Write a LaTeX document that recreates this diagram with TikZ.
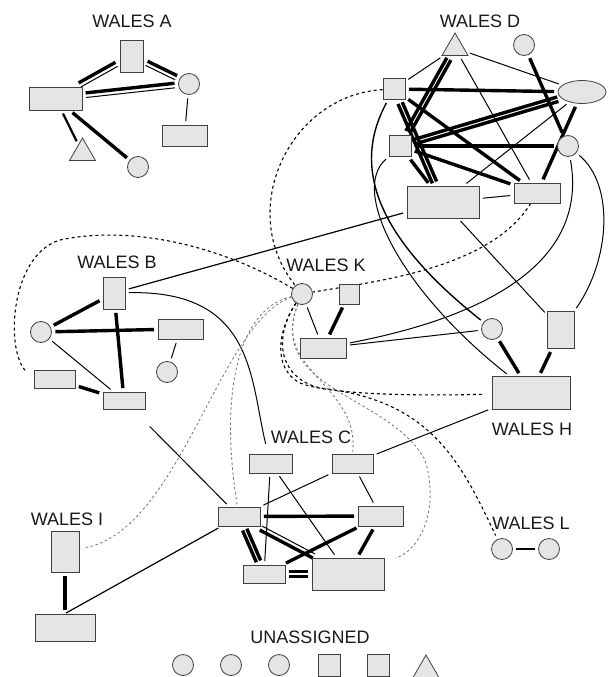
\documentclass[tikz,border=0pt]{standalone}
\usepackage{fontspec}
\setmainfont{Liberation Sans}
\usetikzlibrary{shapes.geometric,calc}
\pgfdeclarelayer{bg}
\pgfsetlayers{bg,main}
\tikzset{
 nd/.style={draw=black!75, fill=black!10, line width=0.8pt, inner sep=0pt},
 rc/.style 2 args={nd, rectangle, minimum width=#1pt, minimum height=#2pt},
 cir/.style={nd, circle, minimum size=21pt},
 tri/.style={nd, regular polygon, regular polygon sides=3, minimum size=30pt},
 ell/.style={nd, ellipse, minimum width=48pt, minimum height=23pt},
 lab/.style={inner sep=0pt, font=\fontsize{18}{20}\selectfont, text=black!90},
 ln/.style={line width=1pt, shorten <=3.5pt, shorten >=3.5pt},
 th/.style={line width=3.4pt, shorten <=3.5pt, shorten >=3.5pt},
 md/.style={line width=2.2pt, shorten <=3.5pt, shorten >=3.5pt},
 kd/.style={line width=1.1pt, dash pattern=on 3pt off 3pt},
 gd/.style={line width=0.8pt, black!55, dash pattern=on 2.5pt off 2.5pt},
}
\newcommand\pe[4]{%
 \path (#1) -- (#2) coordinate[pos=0] (pes) coordinate[pos=1] (pee);
 \draw[#3] ($(pes)!2.3pt!90:(pee)$) -- ($(pee)!2.3pt!-90:(pes)$);
 \draw[#4] ($(pes)!2.3pt!-90:(pee)$) -- ($(pee)!2.3pt!90:(pes)$);
}
\begin{document}
\begin{tikzpicture}[x=1pt,y=-1pt]
\useasboundingbox (0,0) rectangle (608,677);
% labels
\node[lab] (la) at (132,21) {WALES A};
\node[lab] (ld) at (480,21) {WALES D};
\node[lab] (lb) at (117,262) {WALES B};
\node[lab] (lk) at (326,265) {WALES K};
\node[lab] (lh) at (532,429) {WALES H};
\node[lab] (lc) at (311,437) {WALES C};
\node[lab] (li) at (67,519) {WALES I};
\node[lab] (ll) at (531,523.5) {WALES L};
\node[lab] (lu) at (310,637) {UNASSIGNED};
% WALES A
\node[rc={23}{32}] (aa) at (131.5,56) {};
\node[rc={53}{23}] (ab) at (55.5,98.5) {};
\node[cir] (ac) at (189,84) {};
\node[rc={45}{21}] (ad) at (184.5,135.5) {};
\node[tri] (at) at (82.5,153) {};
\node[cir] (ae) at (138,167) {};
% WALES D
\node[tri] (dt) at (455,48) {};
\node[cir] (dc1) at (524,45) {};
\node[ell] (de) at (582,92) {};
\node[rc={22}{21}] (ds1) at (394,89) {};
\node[rc={22}{21}] (ds2) at (400,146) {};
\node[cir] (dc2) at (568,146) {};
\node[rc={72}{32}] (dr) at (443,202) {};
\node[rc={46}{20}] (dq) at (537,193) {};
% WALES B
\node[rc={22}{32}] (bs) at (114,293) {};
\node[cir] (bc) at (41,332) {};
\node[rc={45}{20}] (br) at (180.5,329) {};
\node[cir] (bsc) at (167,372) {};
\node[rc={41}{18}] (bl) at (54.5,379) {};
\node[rc={42}{17}] (bb) at (124,400.5) {};
% WALES K
\node[cir] (kc) at (302,294) {};
\node[rc={20}{20}] (ks) at (349,294) {};
\node[rc={46}{20}] (kr) at (323,348) {};
% WALES H
\node[cir] (hci) at (492,329) {};
\node[rc={27}{37}] (hs) at (561,330) {};
\node[rc={78}{33}] (hr) at (531,393) {};
% WALES C
\node[rc={43}{19}] (ca) at (270.5,463.5) {};
\node[rc={41}{19}] (cb) at (352.5,463.5) {};
\node[rc={42}{19}] (cc) at (239,516.5) {};
\node[rc={45}{20}] (cd) at (380.5,516) {};
\node[rc={42}{18}] (ce) at (264,574) {};
\node[rc={72}{32}] (cf) at (348,574) {};
% WALES I
\node[rc={28}{41}] (it) at (65,551.5) {};
\node[rc={60}{27}] (ib) at (65,627.5) {};
% WALES L
\node[cir] (l1) at (502,549) {};
\node[cir] (l2) at (549,549) {};
% UNASSIGNED
\node[cir] (u1) at (183,665) {};
\node[cir] (u2) at (231,665) {};
\node[cir] (u3) at (279,665) {};
\node[rc={22}{22}] (u4) at (329,665) {};
\node[rc={22}{22}] (u5) at (378,665) {};
\node[tri] (u6) at (426,670) {};

\begin{pgfonlayer}{bg}
% A
\pe{aa}{ab}{ln}{th}
\pe{aa}{ac}{th}{ln}
\pe{ab}{ac}{th}{ln}
\draw[ln] (ac) -- (ad);
\draw[md] (ab) -- (at);
\draw[th] (ab) -- (ae);
% D
\draw[ln] (dt) -- (ds1);
\draw[ln] (dt) -- (de);
\pe{dt}{ds2}{th}{th}
\draw[ln] (dt) -- (dq);
\draw[th] (dc1) -- (dc2);
\draw[th] (ds1) -- (de);
\draw[th] (ds1) -- (dq);
\pe{ds1}{dr}{th}{th}
\pe{ds2}{de}{th}{th}
\draw[th] (ds2) -- (dc2);
\draw[th] (ds2) -- (dq);
\draw[th] (ds2) -- (dr);
\draw[ln] (de) -- (dr);
\draw[th] (de) -- (dq);
\draw[ln] (dr) -- (dq);
% B
\draw[th] (bc) -- (bs);
\draw[th] (bc) -- (br);
\draw[th] (bs) -- (bb);
\draw[ln] (bc) -- (bb);
\draw[th] (bl) -- (bb);
\draw[ln] (br) -- (bsc);
% K
\draw[ln] (kc) -- (kr);
\draw[th] (ks) -- (kr);
% H
\draw[th] (hci) -- (hr);
\draw[th] (hs) -- (hr);
% C
\draw[ln] (ca) -- (ce);
\draw[ln] (ca) -- (cf);
\draw[ln] (cb) -- (cc);
\draw[ln] (cb) -- (cd);
\draw[th] (cc) -- (cd);
\pe{cc}{cf}{ln}{th}
\draw[th] (cd) -- (ce);
\draw[th] (cd) -- (cf);
\pe{cc}{ce}{th}{th}
\pe{ce}{cf}{th}{th}
% I, L
\draw[th] (it) -- (ib);
\draw[line width=1.3pt, shorten <=3pt, shorten >=3pt] (l1) -- (l2);
% long links
\draw[ln, line width=1.2pt] (dr) -- (bs);
\draw[ln] (dr) -- (hs);
\draw[ln] (kr) -- (hci);
\draw[ln] (hr) -- (cb);
\draw[ln, line width=1.2pt, shorten <=1pt] (ib.north) -- (cc);
\draw[ln, shorten <=24pt] (bb) -- (cc);
% curves
\draw[kd] (ds1) .. controls (290,95) and (235,210) .. (kc);
\draw[ln, line width=1.4pt] (ds1) .. controls (350,170) and (380,240) .. (hci);
\draw[ln] (ds2.south west) .. controls (350,190) and (400,290) .. (hr);
\draw[ln] (dc2) .. controls (590,270) and (470,320) .. (kr);
\draw[ln] (dc2) .. controls (615,185) and (610,260) .. (hs);
\draw[kd] (dq) .. controls (490,270) and (370,282) .. (kc);
\draw[ln, shorten >=10pt] (bs) .. controls (255,290) and (250,380) .. (ca);
% dashed from K
\draw[kd, shorten >=11pt] (kc) .. controls (220,245) and (130,225) .. (60,240) .. controls (10,255) and (5,350) .. (bl.west);
\draw[kd, shorten >=8pt] (kc) .. controls (278,330) and (272,368) .. (300,383) .. controls (330,395) and (420,396) .. (hr);
\draw[kd, shorten >=4pt] (kc) .. controls (272,340) and (280,378) .. (320,388) .. controls (430,400) and (460,460) .. (l1);
\draw[gd, shorten >=2pt] (kc) .. controls (270,370) and (360,385) .. (cb.north);
\draw[gd, shorten >=12pt] (kc) .. controls (265,390) and (390,395) .. (425,460) .. controls (440,510) and (420,550) .. (cf);
\draw[gd] (kc) .. controls (235,310) and (220,400) .. (cc);
\draw[gd, shorten >=6pt] (kc) .. controls (220,320) and (180,530) .. (it);
\end{pgfonlayer}
\end{tikzpicture}
\end{document}
